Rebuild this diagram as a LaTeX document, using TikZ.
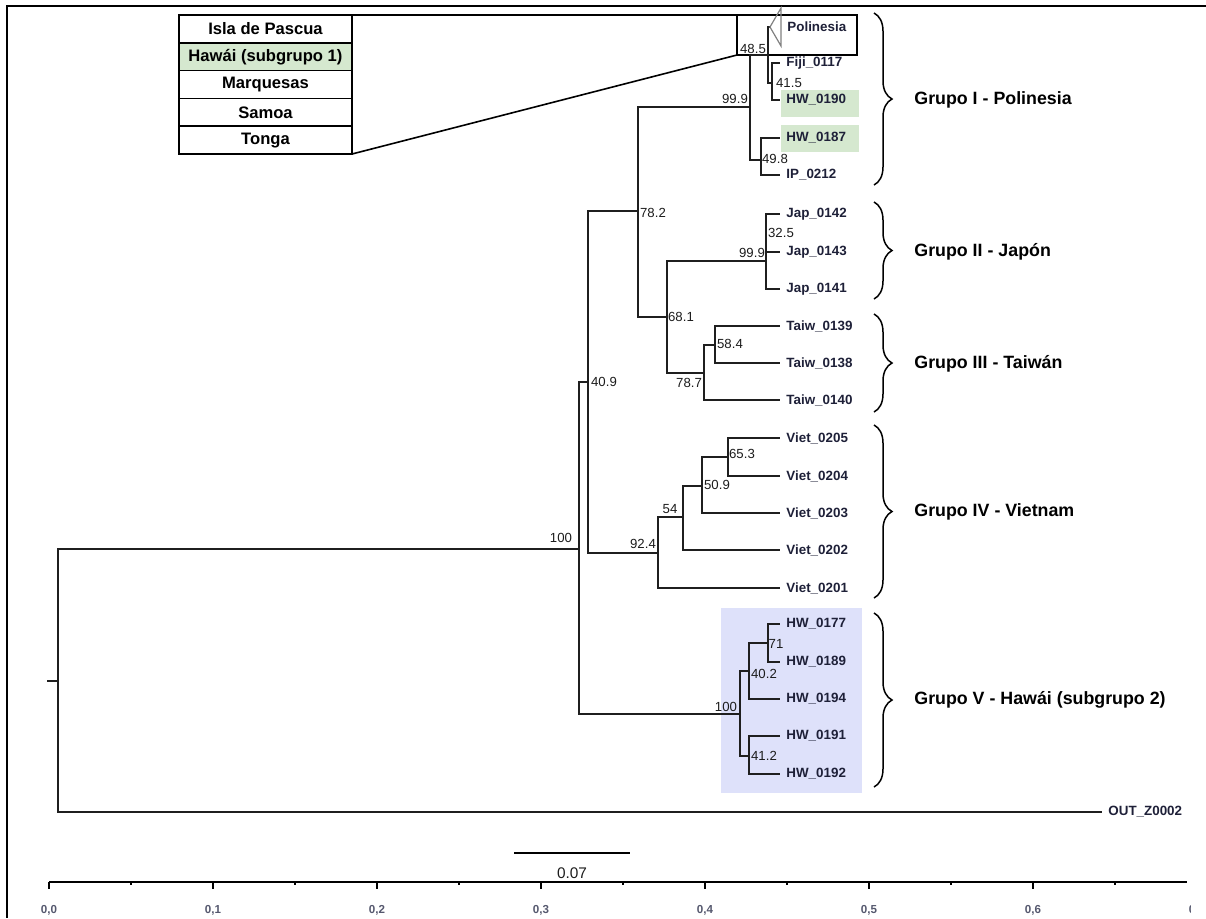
\documentclass[tikz,border=0pt]{standalone}
\usepackage{fontspec}
\setmainfont{Liberation Sans}
\usetikzlibrary{positioning,decorations.pathreplacing}
\definecolor{hwfill}{HTML}{DEE1FA}
\definecolor{polyfill}{HTML}{D5E8CF}
\definecolor{leafcol}{HTML}{1E2038}
\definecolor{bscol}{HTML}{1C1C1C}
\definecolor{axcol}{HTML}{55586E}
\tikzset{
  branch/.style={line width=1pt, draw=black!88},
  leaf/.style={anchor=west, inner sep=0pt, text=leafcol, font=\bfseries\fontsize{6.7}{8}\selectfont},
  bs/.style={inner sep=0.5pt, text=bscol, font=\fontsize{6.6}{7.5}\selectfont},
  grp/.style={anchor=west, inner sep=0pt, font=\bfseries\fontsize{8.9}{10}\selectfont},
  isl/.style={draw, line width=0.8pt, outer sep=0pt, inner sep=0pt, minimum width=86.5pt, minimum height=13.9pt, font=\bfseries\fontsize{8.3}{9}\selectfont},
  grpbrace/.style={decorate, decoration={brace, amplitude=9pt}, line width=0.75pt},
  axisline/.style={line width=0.75pt},
  axlab/.style={text=axcol, font=\bfseries\fontsize{5.8}{6}\selectfont}
}

\begin{document}
\begin{tikzpicture}[x=0.5pt, y=-0.5pt]
  \useasboundingbox (0,0) rectangle (1206,918);

  % frame of the screenshot
  \draw[line width=1pt] (6.5,6) -- (6.5,918);
  \draw[line width=0.75pt] (6,6) -- (1206,6);

  % highlighted leaves
  \fill[hwfill] (721,608) rectangle (862,793);
  \fill[polyfill] (781,90) rectangle (859,117);
  \fill[polyfill] (781,125) rectangle (859,152);

  % inset with the collapsed clade
  \node[isl, anchor=north west] (pascua) at (179,15) {Isla de Pascua};
  \node[isl, fill=polyfill, below=0pt of pascua] (hawai) {Hawái (subgrupo 1)};
  \node[isl, below=0pt of hawai] (marq) {Marquesas};
  \node[isl, below=0pt of marq] (samoa) {Samoa};
  \node[isl, below=0pt of samoa] (tonga) {Tonga};
  \node[draw, line width=0.6pt, outer sep=0pt, inner sep=0pt, minimum width=60pt, minimum height=20pt, anchor=north west] (polibox) at (737,15) {};
  \draw[line width=0.8pt] (pascua.north east) -- (polibox.north west);
  \draw[line width=0.8pt] (tonga.south east) -- (polibox.south west);

  % tree nodes
  \coordinate (rootstub) at (47,681);
  \coordinate (root) at (58,681);
  \coordinate (n100) at (579,549);
  \coordinate (n409) at (588,382);
  \coordinate (n782) at (638,211);
  \coordinate (n999p) at (750,107);
  \coordinate (n485) at (768,55);
  \coordinate (poliapex) at (770,27);
  \coordinate (n415) at (772,83);
  \coordinate (n498) at (761,160);
  \coordinate (n681) at (667,317);
  \coordinate (n999j) at (766,261);
  \coordinate (n787) at (704,373);
  \coordinate (n584) at (715,345);
  \coordinate (n924) at (658,553);
  \coordinate (n54) at (683,517);
  \coordinate (n509) at (702,486);
  \coordinate (n653) at (728,457);
  \coordinate (nhw) at (740,714);
  \coordinate (n402) at (749,671);
  \coordinate (n71) at (768,643);
  \coordinate (n412) at (749,756);

  % leaf tips
  \coordinate (fiji) at (780,63);
  \coordinate (hw0190) at (780,100);
  \coordinate (hw0187) at (780,138);
  \coordinate (ip0212) at (780,175);
  \coordinate (jap0142) at (780,214);
  \coordinate (jap0143) at (780,252);
  \coordinate (jap0141) at (780,289);
  \coordinate (taiw0139) at (780,326);
  \coordinate (taiw0138) at (780,363);
  \coordinate (taiw0140) at (780,400);
  \coordinate (viet0205) at (780,438);
  \coordinate (viet0204) at (780,476);
  \coordinate (viet0203) at (780,513);
  \coordinate (viet0202) at (780,550);
  \coordinate (viet0201) at (780,588);
  \coordinate (hw0177) at (780,624);
  \coordinate (hw0189) at (780,662);
  \coordinate (hw0194) at (780,699);
  \coordinate (hw0191) at (780,736);
  \coordinate (hw0192) at (780,774);
  \coordinate (out) at (1102,812);

  % branches
  \draw[branch] (rootstub) -- (root);
  \foreach \p/\c in {root/n100, root/out, n100/n409, n100/nhw, n409/n782, n409/n924,
      n782/n999p, n782/n681, n999p/n485, n999p/n498, n485/poliapex, n485/n415,
      n415/fiji, n415/hw0190, n498/hw0187, n498/ip0212, n681/n999j, n681/n787,
      n999j/jap0142, n999j/jap0143, n999j/jap0141, n787/n584, n787/taiw0140,
      n584/taiw0139, n584/taiw0138, n924/n54, n924/viet0201, n54/n509, n54/viet0202,
      n509/n653, n509/viet0203, n653/viet0205, n653/viet0204, nhw/n402, nhw/n412,
      n402/n71, n402/hw0194, n71/hw0177, n71/hw0189, n412/hw0191, n412/hw0192}
    \draw[branch] (\p) |- (\c);
  \draw[gray, line width=0.6pt] (poliapex) -- (781,8) -- (781,46) -- cycle;

  % leaf names
  \node[leaf] (lpoli) at (787,27) {Polinesia};
  \foreach \c/\t in {fiji/Fiji\_0117, hw0190/HW\_0190, hw0187/HW\_0187, ip0212/IP\_0212,
      jap0142/Jap\_0142, jap0143/Jap\_0143, jap0141/Jap\_0141,
      taiw0139/Taiw\_0139, taiw0138/Taiw\_0138, taiw0140/Taiw\_0140,
      viet0205/Viet\_0205, viet0204/Viet\_0204, viet0203/Viet\_0203, viet0202/Viet\_0202, viet0201/Viet\_0201,
      hw0177/HW\_0177, hw0189/HW\_0189, hw0194/HW\_0194, hw0191/HW\_0191, hw0192/HW\_0192,
      out/OUT\_Z0002}
    \node[leaf] (l-\c) at ([xshift=3pt]\c) {\t};

  % bootstrap values
  \node[bs] (b100r) at (561,538) {100};
  \node[bs] (b409) at (604,382) {40.9};
  \node[bs] (b782) at (653,213) {78.2};
  \node[bs] (b999p) at (735,99) {99.9};
  \node[bs] (b485) at (753,49) {48.5};
  \node[bs] (b415) at (789,83) {41.5};
  \node[bs] (b498) at (775,159) {49.8};
  \node[bs] (b325) at (781,233) {32.5};
  \node[bs] (b999j) at (752,253) {99.9};
  \node[bs] (b681) at (681,317) {68.1};
  \node[bs] (b787) at (689,383) {78.7};
  \node[bs] (b584) at (730,344) {58.4};
  \node[bs] (b924) at (643,544) {92.4};
  \node[bs] (b54) at (670,509) {54};
  \node[bs] (b509) at (717,485) {50.9};
  \node[bs] (b653) at (742,454) {65.3};
  \node[bs] (b100h) at (726,707) {100};
  \node[bs] (b402) at (764,674) {40.2};
  \node[bs] (b71) at (776,644) {71};
  \node[bs] (b412) at (764,756) {41.2};

  % groups
  \draw[grpbrace] (874,13) -- (874,185);
  \draw[grpbrace] (874,202) -- (874,299);
  \draw[grpbrace] (874,314) -- (874,412);
  \draw[grpbrace] (874,425) -- (874,598);
  \draw[grpbrace] (874,613) -- (874,787);
  \node[grp] (g1) at (914,100) {Grupo I - Polinesia};
  \node[grp] (g2) at (914,252) {Grupo II - Japón};
  \node[grp] (g3) at (914,364) {Grupo III - Taiwán};
  \node[grp] (g4) at (914,512) {Grupo IV - Vietnam};
  \node[grp] (g5) at (914,700) {Grupo V - Hawái (subgrupo 2)};

  % scale bar and axis
  \draw[axisline] (514,853) -- (630,853);
  \node[bs, font=\fontsize{7.7}{8}\selectfont] (scale) at (572,873) {0.07};
  \draw[axisline] (49,882) -- (1187,882);
  \foreach \k in {0,...,6} {
    \draw[axisline] ({49+164*\k},882) -- ++(0,7);
    \draw[axisline] ({131+164*\k},882) -- ++(0,3);
    \node[axlab] (ax\k) at ({49+164*\k},910) {0,\k};
  }
  \begin{scope}
    \clip (1150,895) rectangle (1190,925);
    \node[axlab] (ax7) at (1197,910) {0,7};
  \end{scope}
\end{tikzpicture}
\end{document}
